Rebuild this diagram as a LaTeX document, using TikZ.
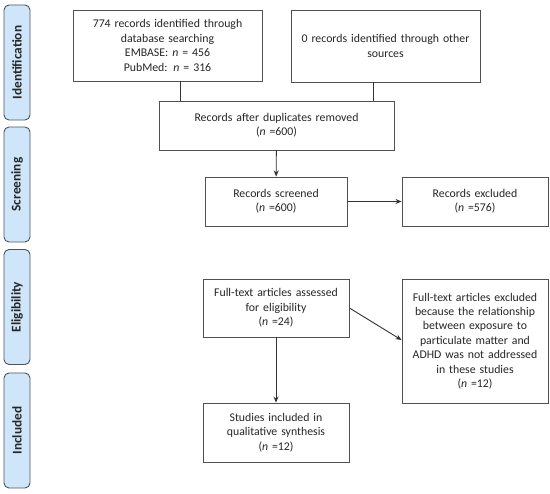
\documentclass[tikz,border=0pt]{standalone}
\usepackage{fontspec}
\setmainfont{Carlito}
\usetikzlibrary{arrows.meta}
\definecolor{sidefill}{HTML}{CFE6FA}
\definecolor{sidedraw}{HTML}{4A5560}
\definecolor{boxdraw}{HTML}{505050}
\definecolor{txt}{HTML}{262626}
\begin{document}
\begin{tikzpicture}[x=1pt,y=-1pt,
  every node/.style={font=\fontsize{11.8}{14.4}\selectfont,text=txt},
  flowbox/.style={draw=boxdraw,line width=0.9pt,fill=white,align=center,inner sep=0pt},
  sidebar/.style={draw=sidedraw,line width=0.9pt,fill=sidefill,rounded corners=5pt,
    minimum width=115pt,minimum height=26pt,rotate=90,inner sep=0pt,
    font=\fontsize{13.3}{15}\selectfont\bfseries},
  arr/.style={draw=black!80,line width=0.9pt,-{Stealth[length=6pt,width=5pt]}},
  ln/.style={draw=black!80,line width=0.9pt}]
\useasboundingbox (0,0) rectangle (550,494);

% side bars
\node[sidebar] (sid) at (17,62.5) {Identification};
\node[sidebar] (ssc) at (17,184.5) {Screening};
\node[sidebar] (sel) at (17,307) {Eligibility};
\node[sidebar] (sin) at (17,430.5) {Included};

% boxes
\node[flowbox,minimum width=189pt,minimum height=71pt,text width=180pt] (b1) at (167.5,45.5)
  {774 records identified through\\database searching\\EMBASE: \textit{n} = 456\\PubMed: \textit{n} = 316};
\node[flowbox,minimum width=189pt,minimum height=72pt,text width=180pt] (b2) at (385.5,46)
  {0 records identified through other\\sources};
\node[flowbox,minimum width=235pt,minimum height=49pt,text width=225pt] (b3) at (276.5,125.5)
  {Records after duplicates removed\\(\textit{n} =600)};
\node[flowbox,minimum width=142pt,minimum height=49pt,text width=136pt] (b4) at (276,201.5)
  {Records screened\\(\textit{n} =600)};
\node[flowbox,minimum width=146pt,minimum height=49pt,text width=140pt] (b5) at (475,201.5)
  {Records excluded\\(\textit{n} =576)};
\node[flowbox,minimum width=146pt,minimum height=58pt,text width=140pt] (b6) at (276,308)
  {Full-text articles assessed\\for eligibility\\(\textit{n} =24)};
\node[flowbox,minimum width=146pt,minimum height=124pt,text width=140pt] (b7) at (475,341)
  {Full-text articles excluded\\because the relationship\\between exposure to\\particulate matter and\\ADHD was not addressed\\in these studies\\(\textit{n} =12)};
\node[flowbox,minimum width=146pt,minimum height=59pt,text width=140pt] (b8) at (276,432.5)
  {Studies included in\\qualitative synthesis\\(\textit{n} =12)};

% connectors
\draw[ln] (b1.south -| 180,0) -- (b3.north -| 180,0);
\draw[ln] (b2.south -| 373,0) -- (b3.north -| 373,0);
\draw[arr] (b3) -- (b4);
\draw[arr] (b4) -- (b5);
\draw[arr] (b6.east) -- (b7.west |- 0,340);
\draw[arr] (b6) -- (b8);
\end{tikzpicture}
\end{document}
